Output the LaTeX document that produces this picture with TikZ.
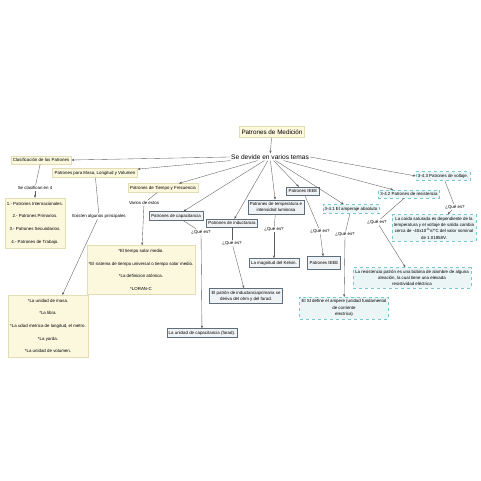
\documentclass[tikz,border=0pt]{standalone}
\usepackage{fontspec}
\setmainfont{Liberation Sans}
\usepackage{tikz}
\usetikzlibrary{arrows.meta}
\definecolor{Cream}{HTML}{FBF8DE}
\definecolor{CreamLine}{HTML}{E2DDB5}
\definecolor{Slate}{HTML}{F0F3F5}
\definecolor{SlateLine}{HTML}{5E6E7A}
\definecolor{Aqua}{HTML}{EBF5F6}
\definecolor{AquaLine}{HTML}{78C8D0}
\definecolor{Link}{HTML}{5A5A5A}

\begin{document}
\begin{tikzpicture}[x=1pt,y=-1pt,
  base/.style={font=\fontsize{4.4}{6.3}\selectfont,inner xsep=2pt,inner ysep=2.4pt,align=center},
  yellowbox/.style={base,fill=Cream,draw=CreamLine,line width=.3pt},
  listbox/.style={yellowbox,font=\fontsize{4.4}{12.6}\selectfont,inner ysep=4pt},
  greybox/.style={base,fill=Slate,draw=SlateLine,line width=.4pt},
  aquabox/.style={base,fill=Aqua,draw=AquaLine,dashed,line width=.4pt},
  phrase/.style={base,inner sep=1pt},
  link/.style={draw=Link,line width=.35pt,-{Stealth[length=3pt,width=2.2pt]}},
  plain/.style={draw=Link,line width=.35pt}]
\useasboundingbox (0,0) rectangle (481,481);

% root
\node[yellowbox,font=\fontsize{6.3}{7}\selectfont,inner ysep=3pt] (medicion) at (272,132) {Patrones de Medición};
\node[phrase,font=\fontsize{6.6}{7}\selectfont] (temas) at (270,157) {Se devide en varios temas};

% left branches
\node[yellowbox] (clasif) at (41,160) {Clasificación de los Patrones};
\node[phrase] (seclasif) at (35,188) {Se clasifican en 4};
\node[listbox] (listclasif) at (35,223) {1.- Patrones Internacionales.\\2.- Patrones Primarios.\\3.- Patrones Secundarios.\\4.- Patrones de Trabajo.};

\node[yellowbox] (masa) at (95,173) {Patrones para Masa, Longitud y Volumen};
\node[phrase] (existen) at (99,216) {Existen algunos principales};
\node[listbox] (listmasa) at (48,326) {*La unidad de masa.\\*La libra.\\*La udad metrica de longitud, el metro.\\*La yarda.\\*La unidad de volumen.};

\node[yellowbox] (tiempo) at (163,188) {Patrones de Tiempo y Frecuencia};
\node[phrase] (varios) at (144,203) {Varios de estos};
\node[listbox] (listtiempo) at (141,270) {*El tiempo solar medio.\\*El sistema de tiempo universal o tiempo solar medio.\\*La definicion atómica.\\*LORAN-C};

% middle branches
\node[greybox] (capac) at (176,216) {Patrones de capacitancia};
\node[phrase] (quecap) at (201,232) {¿Qué es?};
\node[greybox] (unicap) at (202,333) {La unidad de capacitancia (farad).};

\node[greybox] (induc) at (232,223) {Patrones de inductancia};
\node[phrase] (queind) at (232,243) {¿Qué es?};
\node[greybox] (patind) at (246,296) {El patrón de inductanciaprimaria se\\deriva del ohm y del farad.};

\node[greybox] (temp) at (276,207) {Patrones de temperatura e\\intensidad luminosa};
\node[phrase] (quetemp) at (274,229) {¿Qué es?};
\node[greybox] (kelvin) at (274,263) {La magnitud del Kelvin.};

\node[greybox] (ieee) at (303,191) {Patrones IEEE};
\node[phrase] (queieee) at (320,231) {¿Qué es?};
\node[greybox,minimum height=13pt] (ieeeb) at (324,263) {Patrones IEEE};

% right branches
\node[aquabox] (amper) at (351,209) {3-4.1 El amperaje absoluto};
\node[phrase] (queamp) at (345,234) {¿Qué es?};
\node[aquabox] (siamp) at (344,308) {El SI define el ampere (unidad fundamental\\de corriente\\electrica)};

\node[aquabox] (resis) at (409,194) {3-4.2 Patrones de resistencia};
\node[phrase] (queres) at (377,222) {¿Qué es?};
\node[aquabox] (resbob) at (412,278) {La resistencia patrón es una bobina de alambre de alguna\\aleación, la cual tiene una elevada\\resistividad eléctrica};

\node[aquabox] (volt) at (443,176) {3-4.3 Patrones de voltaje.};
\node[phrase] (quevolt) at (455,207) {¿Qué es?};
\node[aquabox] (caida) at (434,228) {La caída saturada es dependiente de la\\temperatura y el voltaje de salida cambia\\cerca de -40x10\textsuperscript{-6}V/°C del valor nominal\\de 1.01858V.};

% connectors
\draw[link] (medicion) -- (temas);
\draw[link] (temas.west) -- (clasif.east);
\foreach \c in {masa,tiempo,capac,induc,temp,ieee,amper,resis}
  \draw[link] (temas) -- (\c);
\draw[link] (temas.east) -- (volt.west);

\draw[plain] (clasif) -- (seclasif);
\draw[link] (seclasif) -- (listclasif);
\draw[plain] (masa) -- (existen);
\draw[link] (existen) -- (listmasa);
\draw[plain] (tiempo) -- (varios);
\draw[link] (varios) -- (listtiempo);

\draw[plain] (capac) -- (quecap);
\draw[link] (quecap) -- (unicap);
\draw[plain] (induc) -- (queind);
\draw[link] (queind) -- (patind);
\draw[plain] (temp) -- (quetemp);
\draw[link] (quetemp) -- (kelvin);
\draw[plain] (ieee) -- (queieee);
\draw[link] (queieee) -- (ieeeb);
\draw[plain] (amper) -- (queamp);
\draw[link] (queamp) -- (siamp);
\draw[plain] (resis) -- (queres);
\draw[link] (queres) -- (resbob);
\draw[plain] (volt) -- (quevolt);
\draw[link] (quevolt) -- (caida);
\end{tikzpicture}
\end{document}
